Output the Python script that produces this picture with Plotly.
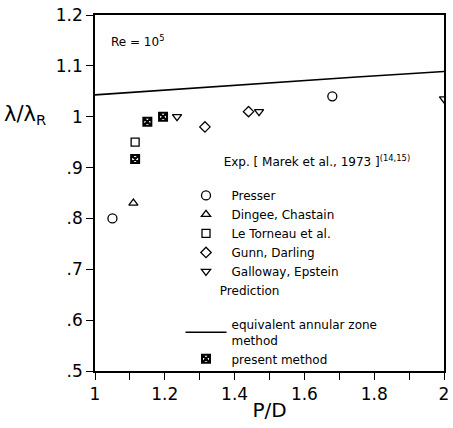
import plotly.graph_objects as go

# Data
presser_x = [1.05, 1.68]
presser_y = [0.80, 1.04]
dingee_x = [1.11]
dingee_y = [0.83]
letorneau_x = [1.115]
letorneau_y = [0.95]
gunn_x = [1.315, 1.44]
gunn_y = [0.98, 1.01]
galloway_x = [1.235, 1.47, 2.0]
galloway_y = [1.0, 1.01, 1.035]
present_x = [1.115, 1.15, 1.195]
present_y = [0.917, 0.99, 1.0]
eaz_x = [1.0, 1.25, 1.5, 1.75, 2.0]
eaz_y = [1.043, 1.055, 1.067, 1.078, 1.089]

xticks = [1.0, 1.2, 1.4, 1.6, 1.8, 2.0]
xticktext = ["1", "1.2", "1.4", "1.6", "1.8", "2"]
yticks = [0.5, 0.6, 0.7, 0.8, 0.9, 1.0, 1.1, 1.2]
yticktext = [".5", ".6", ".7", ".8", ".9", "1", "1.1", "1.2"]

FONT = "DejaVu Sans"
NB = "&nbsp;"
fig = go.Figure()

exp_title = dict(text=NB * 10 + "Exp. [ Marek et al., 1973 ]<sup>(14,15)</sup><br>" + NB,
                 font=dict(size=12, family=FONT, color="black"))

def exp_trace(x, y, name, symbol, size):
    fig.add_trace(go.Scatter(
        x=x, y=y, mode="markers", name=name,
        marker=dict(symbol=symbol, size=size, color="black",
                    line=dict(color="black", width=1.3)),
        legendgroup="exp", legendgrouptitle=exp_title,
    ))

exp_trace(presser_x, presser_y, "Presser", "circle-open", 9)
exp_trace(dingee_x, dingee_y, "Dingee, Chastain", "triangle-up-open", 8)
exp_trace(letorneau_x, letorneau_y, "Le Torneau et al.", "square-open", 8)
exp_trace(gunn_x, gunn_y, "Gunn, Darling", "diamond-open", 8)
exp_trace(galloway_x, galloway_y, "Galloway, Epstein", "triangle-down-open", 8)

pred_title = dict(text=NB * 9 + "Prediction<br>" + NB,
                  font=dict(size=12, family=FONT, color="black"))
fig.add_trace(go.Scatter(
    x=eaz_x, y=eaz_y, mode="lines", name="equivalent annular zone<br>method",
    line=dict(color="black", width=1.6),
    legendgroup="pred", legendgrouptitle=pred_title,
))
fig.add_trace(go.Scatter(
    x=present_x, y=present_y, mode="markers", name="present method",
    marker=dict(symbol="square-x-open", size=8, color="black",
                line=dict(color="black", width=2)),
    legendgroup="pred", legendgrouptitle=pred_title,
))

fig.update_layout(
    width=453, height=428,
    margin=dict(l=95, r=4, t=15, b=57),
    paper_bgcolor="white", plot_bgcolor="white",
    font=dict(family=FONT, color="black"),
    legend=dict(
        x=0.245, y=0.63, xanchor="left", yanchor="top",
        bgcolor="rgba(0,0,0,0)", font=dict(size=12, family=FONT, color="black"),
        tracegroupgap=0, itemwidth=41,
    ),
    xaxis=dict(
        range=[1, 2], tickvals=xticks, ticktext=xticktext,
        showline=True, mirror=True, linecolor="black", linewidth=1.5,
        ticks="outside", ticklen=7, tickcolor="black", tickwidth=1.2,
        minor=dict(dtick=0.1, tick0=1.0, ticks="outside", ticklen=7,
                   tickcolor="black", tickwidth=1.2, showgrid=False),
        showgrid=False, zeroline=False,
        tickfont=dict(size=17, family=FONT),
        title=dict(text="P/D", font=dict(size=20, family=FONT), standoff=0),
    ),
    yaxis=dict(
        range=[0.5, 1.2], tickvals=yticks, ticktext=yticktext,
        showline=True, mirror=True, linecolor="black", linewidth=1.5,
        ticks="outside", ticklen=7, tickcolor="black", tickwidth=1.2,
        showgrid=False, zeroline=False,
        tickfont=dict(size=17, family=FONT),
    ),
    annotations=[
        dict(text="λ/λ<sub>R</sub>", xref="paper", yref="paper",
             x=-0.2, y=0.72, xanchor="center", yanchor="middle",
             showarrow=False, font=dict(size=21, family=FONT)),
        dict(text="Re = 10<sup>5</sup>", xref="paper", yref="paper",
             x=0.04, y=0.955, xanchor="left", showarrow=False,
             font=dict(size=12, family=FONT)),
    ],
)

fig.write_html("out.html")
